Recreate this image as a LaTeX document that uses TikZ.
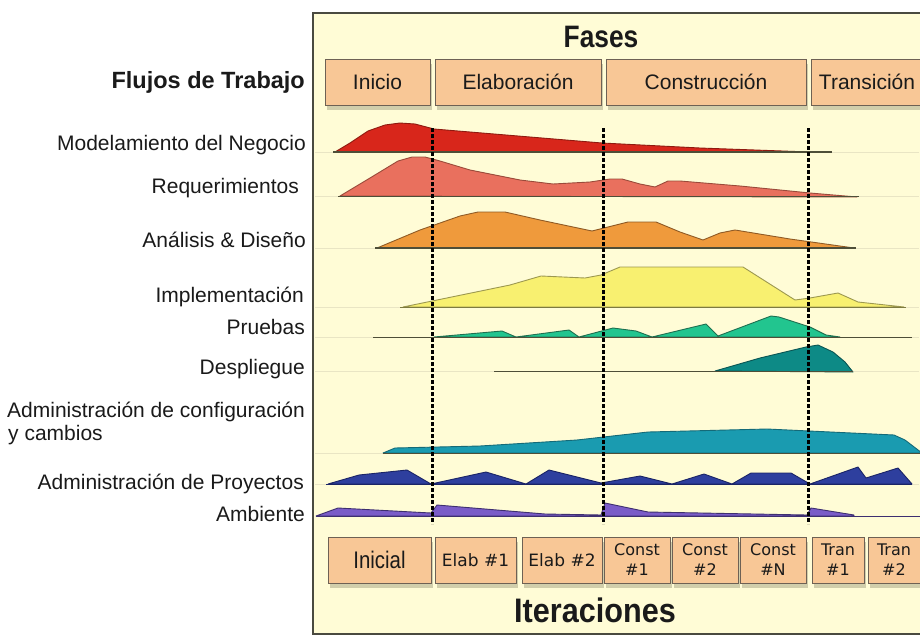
\documentclass[tikz,border=0pt]{standalone}
\usepackage{fontspec}
\setmainfont{Liberation Sans}
\newfontfamily\dejavu{DejaVu Sans}
\usepackage{graphicx}
\definecolor{bgcol}{HTML}{FFFCD6}
\definecolor{faint}{HTML}{E9E5C4}
\definecolor{framecol}{HTML}{4A4A40}
\definecolor{boxfill}{HTML}{F8C796}
\definecolor{boxborder}{HTML}{6E6154}
\definecolor{txtcol}{HTML}{1A1A1A}
\definecolor{axcol}{HTML}{4E4E38}
\definecolor{shadowcol}{HTML}{9A9678}
\definecolor{redF}{HTML}{D8261B}\definecolor{redD}{HTML}{8E1A10}
\definecolor{salF}{HTML}{E9705E}\definecolor{salD}{HTML}{9A4A3A}
\definecolor{oraF}{HTML}{EF9A3C}\definecolor{oraD}{HTML}{8F5A25}
\definecolor{yelF}{HTML}{F8F070}\definecolor{yelD}{HTML}{9C9850}
\definecolor{grnF}{HTML}{22C58F}\definecolor{grnD}{HTML}{1E6F50}
\definecolor{tealF}{HTML}{0D8A86}\definecolor{tealD}{HTML}{0A5553}
\definecolor{cyaF}{HTML}{1A9BB0}\definecolor{cyaD}{HTML}{146A78}
\definecolor{navF}{HTML}{2E3F9E}\definecolor{navD}{HTML}{1A2466}
\definecolor{purF}{HTML}{7A5CC8}\definecolor{purD}{HTML}{3E2F70}
\tikzset{
  boxbase/.style={draw=boxborder, line width=1pt, fill=boxfill, inner sep=0pt, text=txtcol},
  phasebox/.style={boxbase, minimum height=46pt, font=\fontsize{21}{24}\selectfont},
  iterbox/.style={boxbase, minimum height=46pt, align=center},
  boxshadow/.style={fill=shadowcol, opacity=0.45},
  wflabel/.style={anchor=base east, inner sep=0pt, text=txtcol, font=\fontsize{21}{24}\selectfont},
  wfleft/.style={anchor=base west, inner sep=0pt, text=txtcol, font=\fontsize{21}{24}\selectfont},
  hump/.style={line width=0.9pt, line join=round},
  axisline/.style={draw=axcol, line width=1.3pt},
  faintline/.style={draw=faint, line width=1pt},
  phaseline/.style={draw=black, line width=3pt, dash pattern=on 3.5pt off 2.5pt}
}
\begin{document}
\begin{tikzpicture}[x=1pt,y=-1pt]
\useasboundingbox (0,0) rectangle (920,637);
% frame
\fill[white] (0,0) rectangle (920,637);
\draw[framecol, line width=1.6pt, fill=bgcol] (313,13) rectangle (930,634);

% faint guide lines
\foreach \yy in {152,196.5,248,307.5,337.5,371.5,453.5,484.5} {
  \draw[faintline] (315,\yy) -- (919,\yy);
}

% box shadows
\foreach \xa/\xb in {325/430,435/601,606/806,811/923} {
  \fill[boxshadow] (\xa+2,64) rectangle (\xb+2,110);
}
\foreach \xa/\xb in {328/431,435/516,522/602,604/670,672/738,740/806,812/864,868/920} {
  \fill[boxshadow] (\xa+2,542) rectangle (\xb+2,588);
}

% titles
\node[font=\bfseries\fontsize{31}{34}\selectfont, text=txtcol] (fases) at (601,37) {\scalebox{0.85}[1]{Fases}};
\node[font=\bfseries\fontsize{34}{38}\selectfont, text=txtcol] (iter) at (595,610) {\scalebox{0.9}[1]{Iteraciones}};

% phase boxes
\node[phasebox, minimum width=105pt] (inicio) at (377.5,82) {Inicio};
\node[phasebox, minimum width=166pt] (elab) at (518,82) {Elaboración};
\node[phasebox, minimum width=200pt] (const) at (706,82) {Construcción};
\node[phasebox, minimum width=112pt] (trans) at (867,82) {Transición};

% left labels
\node[wflabel, font=\bfseries\fontsize{23.5}{26}\selectfont] (flujos) at (305,88) {Flujos de Trabajo};
\node[wflabel] (l1) at (306,150) {Modelamiento del Negocio};
\node[wflabel] (l2) at (299,193) {Requerimientos};
\node[wflabel] (l3) at (306,247) {Análisis \& Diseño};
\node[wflabel] (l4) at (304,302) {Implementación};
\node[wflabel] (l5) at (305,334) {Pruebas};
\node[wflabel] (l6) at (305,374) {Despliegue};
\node[wfleft] (l7) at (7,417) {Administración de configuración};
\node[wfleft] (l7b) at (8,440) {y cambios};
\node[wflabel] (l8) at (304,489) {Administración de Proyectos};
\node[wflabel] (l9) at (305,521) {Ambiente};

% humps
% Modelamiento del Negocio
\filldraw[hump, fill=redF, draw=redD] (335,152) -- (350,143) -- (368,131) -- (385,125) -- (400,123) -- (415,124) -- (434,129) -- (602,143) -- (700,148) -- (810,152) -- cycle;
\draw[axisline] (333,152) -- (832,152);
% Requerimientos
\filldraw[hump, fill=salF, draw=salD] (340,196) -- (370,178) -- (398,161) -- (412,157) -- (425,157) -- (440,161) -- (470,170) -- (520,180) -- (553,184) -- (590,182) -- (610,179) -- (622,179) -- (640,184) -- (655,187) -- (668,181) -- (680,181) -- (740,186) -- (810,193) -- (857,197) -- cycle;
\draw[axisline] (338,196.5) -- (859,196.5);
% Analisis
\filldraw[hump, fill=oraF, draw=oraD] (377,248) -- (420,230) -- (460,216) -- (478,212) -- (505,212) -- (540,220) -- (592,231) -- (628,222) -- (656,222) -- (680,232) -- (703,240) -- (720,233) -- (735,230) -- (790,239) -- (854,248) -- cycle;
\draw[axisline] (375,248) -- (856,248);
% Implementacion
\filldraw[hump, fill=yelF, draw=yelD] (403,307) -- (510,285) -- (541,276) -- (585,278) -- (601,275) -- (620,267) -- (743,267) -- (795,300) -- (810,298) -- (838,293) -- (858,302) -- (904,307) -- cycle;
\draw[axisline, draw=yelD!80!black] (400,307.5) -- (906,307.5);
% Pruebas
\filldraw[hump, fill=grnF, draw=grnD] (434,337) -- (502,331) -- (516,337) -- (569,330) -- (579,337) -- (613,328) -- (636,331) -- (652,337) -- (706,324) -- (718,336) -- (771,316) -- (779,317) -- (810,327) -- (826,335) -- (840,337) -- cycle;
\draw[axisline] (373,337.5) -- (912,337.5);
% Despliegue
\filldraw[hump, fill=tealF, draw=tealD] (715,371) -- (760,358) -- (806,347) -- (818,345) -- (833,352) -- (845,362) -- (853,372) -- cycle;
\draw[axisline] (494,371.5) -- (853,371.5);
% Configuracion
\filldraw[hump, fill=cyaF, draw=cyaD] (383,453) -- (395,448) -- (480,446) -- (577,440) -- (648,432) -- (767,429) -- (894,435) -- (905,440) -- (922,453) -- cycle;
\draw[axisline] (383,453.5) -- (922,453.5);
% Proyectos
\filldraw[hump, fill=navF, draw=navD] (328,484) -- (359,475) -- (407,470) -- (431,484) -- (486,472) -- (526,484) -- (549,470) -- (601,483) -- (640,476) -- (672,484) -- (704,474) -- (732,484) -- (751,473) -- (791,473) -- (810,484) -- (858,467) -- (866,478) -- (898,468) -- (912,484) -- cycle;
\draw[axisline, draw=navD] (326,484.5) -- (912,484.5);
% Ambiente
\filldraw[hump, fill=purF, draw=purD] (316,516) -- (338,508) -- (431,513) -- (437,505) -- (545,514) -- (601,515) -- (605,503) -- (648,512) -- (807,515) -- (811,508) -- (854,515) -- (854,516) -- cycle;
\draw[axisline, draw=purD] (316,516.5) -- (920,516.5);

% phase separators
\coordinate (s1t) at (432,128); \coordinate (s1b) at (432,524);
\coordinate (s2t) at (603,128); \coordinate (s2b) at (603,524);
\coordinate (s3t) at (808,128); \coordinate (s3b) at (808,524);
\draw[phaseline] (s1t) -- (s1b);
\draw[phaseline] (s2t) -- (s2b);
\draw[phaseline] (s3t) -- (s3b);

% iteration boxes
\node[iterbox, minimum width=103pt, font=\fontsize{24}{26}\selectfont] (i0) at (379.5,560) {\scalebox{0.85}[1]{Inicial}};
\node[iterbox, minimum width=81pt, font=\dejavu\fontsize{17}{20}\selectfont] (i1) at (475.5,560) {Elab \#1};
\node[iterbox, minimum width=80pt, font=\dejavu\fontsize{17}{20}\selectfont] (i2) at (562,560) {Elab \#2};
\node[iterbox, minimum width=66pt, font=\dejavu\fontsize{16}{20}\selectfont] (i3) at (637,560) {Const\\\#1};
\node[iterbox, minimum width=66pt, font=\dejavu\fontsize{16}{20}\selectfont] (i4) at (705,560) {Const\\\#2};
\node[iterbox, minimum width=66pt, font=\dejavu\fontsize{16}{20}\selectfont] (i5) at (773,560) {Const\\\#N};
\node[iterbox, minimum width=52pt, font=\dejavu\fontsize{16}{20}\selectfont] (i6) at (838,560) {Tran\\\#1};
\node[iterbox, minimum width=52pt, font=\dejavu\fontsize{16}{20}\selectfont] (i7) at (894,560) {Tran\\\#2};
\end{tikzpicture}
\end{document}
